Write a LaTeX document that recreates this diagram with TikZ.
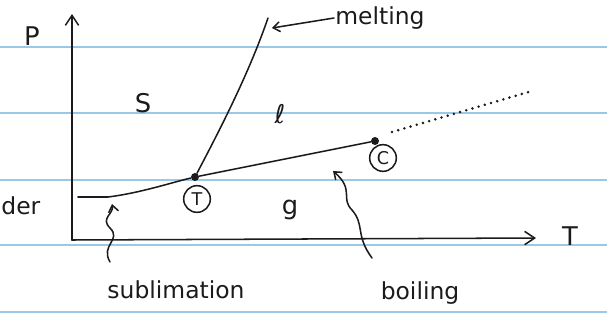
\documentclass[tikz,border=0pt]{standalone}
\usepackage{fontspec}
\setmainfont{DejaVu Sans}
\usepackage{tikz}
\usetikzlibrary{arrows.meta,positioning,calc}
\definecolor{cRule}{HTML}{9CC8E8}
\definecolor{cInk}{HTML}{1C1A1A}
\tikzset{
  ink/.style    ={draw=cInk, line width=1.3pt, line cap=round},
  ax/.style     ={ink, -{Straight Barb[length=3mm,width=4mm]}},
  ptr/.style    ={ink, -{Straight Barb[length=2mm,width=3mm]}},
  rule/.style   ={draw=cRule, line width=1.6pt},
  lbl/.style    ={font=\fontsize{20}{22}\selectfont, text=cInk, inner sep=1pt},
  phase/.style  ={font=\fontsize{22}{24}\selectfont, text=cInk, inner sep=1pt},
  ring/.style   ={circle, draw=cInk, line width=1.3pt, inner sep=1pt,
                  minimum size=8mm, font=\fontsize{15}{15}\selectfont, text=cInk},
  dot/.style    ={circle, fill=cInk, inner sep=0pt, minimum size=2.4mm},
}
\begin{document}
\begin{tikzpicture}[x=0.03cm,y=-0.03cm]
  \useasboundingbox (0,0) rectangle (607,330);
  % ruled paper
  \foreach \yy in {47,113,180,245,312} \draw[rule] (0,\yy) -- (607,\yy);
  % axes
  \coordinate (org) at (72,240);
  \coordinate (ptop) at (72,14);
  \coordinate (tend) at (536,238);
  \draw[ax] (org) -- (ptop);
  \draw[ax] (org) -- (tend);
  \node[phase] (pl) at (32,36) {P};
  \node[phase] (tl) at (570,236) {T};
  \node[lbl,anchor=west] (cut) at (0,206) {der};
  % points
  \node[dot] (tp) at (195,177) {};
  \node[dot] (cp) at (375,141) {};
  \node[ring] (tr) at (197,199) {T};
  \node[ring] (cr) at (383,158) {C};
  % phase lines
  \draw[ink] (78,197) -- (108,197) .. controls (140,193) and (170,183) .. (tp);
  \draw[ink] (tp) -- (cp);
  \draw[ink] (tp) .. controls (225,120) and (250,70) .. (268,18);
  \draw[cInk, line width=2.4pt, line cap=round, dash pattern=on 0pt off 5.5pt]
    (392,132) -- (532,91);
  % phases
  \node[phase] (s) at (143,103) {S};
  \node[phase] (l) at (280,114) {ℓ};
  \node[phase] (g) at (290,210) {g};
  % labels and pointers
  \node[lbl] (melt) at (380,18) {melting};
  \node[lbl] (subl) at (176,290) {sublimation};
  \node[lbl] (boil) at (420,293) {boiling};
  \coordinate (mt) at (272,28);
  \draw[ptr] (melt.west) -- (mt);
  \coordinate (st) at (112,204);
  \draw[ptr] (110,262) .. controls (100,245) and (122,240) .. (110,228)
                      .. controls (100,218) and (114,214) .. (st);
  \coordinate (bt) at (333,171);
  \draw[ptr] (372,258) .. controls (355,235) and (365,225) .. (352,210)
                      .. controls (340,198) and (355,190) .. (bt);
\end{tikzpicture}
\end{document}
